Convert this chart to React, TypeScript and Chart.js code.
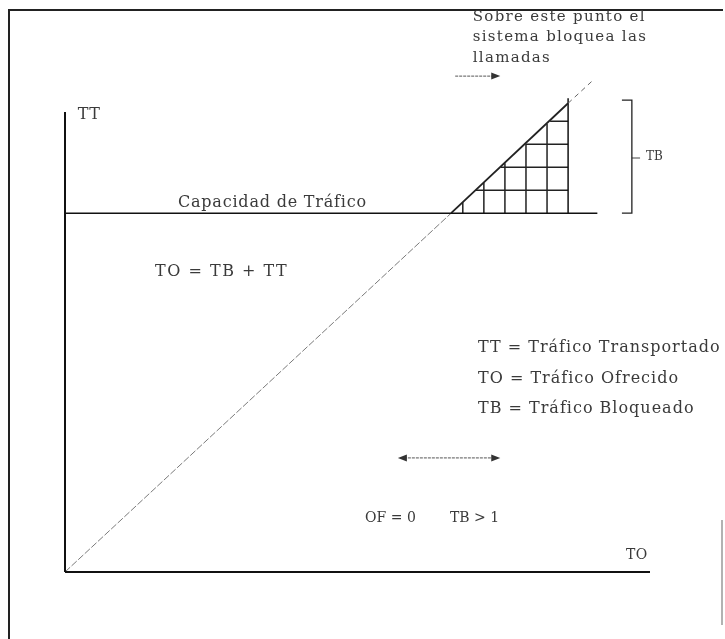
import React, { useEffect, useRef } from "react";
import { Chart, registerables } from "chart.js";

Chart.register(...registerables);

// ---- data (TO on x, TT on y, arbitrary units 0..100) ----
const axisX = [0, 100];
const axisY = [0, 100];
const capacity = 78;
const capacityEndX = 91;
const diagonalX = [0, 66, 86, 90];
const diagonalY = [0, 78, 101.9, 106.6];
const hatchRightX = 86;
const hatchCols = [68, 71.6, 75.2, 78.8, 82.4];
const hatchRows = [83, 88, 93, 98];
const bracketX = [95.2, 96.9, 98.3];
const bracketY = [78, 102.6, 90];

const slope = diagonalY[1] / diagonalX[1];

const labels = [
  { t: "TT", x: 2.2, y: 99.4, size: 16, ls: 0.5 },
  { t: "Capacidad de Tráfico", x: 19.3, y: 80.2, size: 16, ls: 0.8 },
  { t: "TO = TB + TT", x: 15.4, y: 65.2, size: 16, ls: 1.5 },
  { t: "TT = Tráfico Transportado", x: 70.6, y: 48.7, size: 16, ls: 1 },
  { t: "TO = Tráfico Ofrecido", x: 70.6, y: 42.0, size: 16, ls: 1 },
  { t: "TB = Tráfico Bloqueado", x: 70.6, y: 35.4, size: 16, ls: 1 },
  { t: "OF = 0", x: 51.3, y: 11.7, size: 14, ls: 0 },
  { t: "TB > 1", x: 65.8, y: 11.7, size: 14, ls: 0 },
  { t: "TO", x: 95.9, y: 3.7, size: 14, ls: 0.5 },
  { t: "TB", x: 99.3, y: 90.2, size: 12, ls: 0 },
  { t: "Sobre este punto el", x: 69.7, y: 120.7, size: 15, ls: 1.3 },
  { t: "sistema bloquea las", x: 69.7, y: 116.3, size: 15, ls: 1.3 },
  { t: "llamadas", x: 69.7, y: 111.7, size: 15, ls: 1.3 },
];

const arrowTop = { x1: 66.7, x2: 74.4, y: 107.8 };
const arrowBoth = { x1: 56.9, x2: 74.4, y: 24.8 };

function seg(points: number[][]) {
  return points.map(([x, y]) => ({ x, y }));
}

const gridData: { x: number; y: number | null }[] = [];
hatchCols.forEach((c) => {
  gridData.push({ x: c, y: capacity }, { x: c, y: slope * c }, { x: c, y: null });
});
hatchRows.forEach((r) => {
  gridData.push({ x: r / slope, y: r }, { x: hatchRightX, y: r }, { x: hatchRightX, y: null });
});

const drawPlugin = {
  id: "diagramText",
  afterDatasetsDraw(chart: any) {
    const { ctx } = chart;
    const xs = chart.scales.x;
    const ys = chart.scales.y;
    const px = (v: number) => xs.getPixelForValue(v);
    const py = (v: number) => ys.getPixelForValue(v);
    ctx.save();
    // frame
    ctx.strokeStyle = "#222";
    ctx.lineWidth = 2;
    ctx.beginPath();
    ctx.moveTo(9, 639);
    ctx.lineTo(9, 10);
    ctx.lineTo(723, 10);
    ctx.stroke();
    ctx.strokeStyle = "#999";
    ctx.lineWidth = 1.5;
    ctx.beginPath();
    ctx.moveTo(722, 520);
    ctx.lineTo(722, 625);
    ctx.stroke();

    // texts
    ctx.fillStyle = "#3a3a3a";
    ctx.textBaseline = "middle";
    ctx.textAlign = "left";
    labels.forEach((l) => {
      ctx.font = `${l.size}px "DejaVu Serif", serif`;
      (ctx as any).letterSpacing = `${l.ls}px`;
      ctx.fillText(l.t, px(l.x), py(l.y));
    });
    (ctx as any).letterSpacing = "0px";

    // arrows
    const head = (x: number, y: number, dir: number) => {
      ctx.beginPath();
      ctx.moveTo(x, y);
      ctx.lineTo(x - dir * 9, y - 3.5);
      ctx.lineTo(x - dir * 9, y + 3.5);
      ctx.closePath();
      ctx.fill();
    };
    ctx.strokeStyle = "#555";
    ctx.fillStyle = "#333";
    ctx.lineWidth = 1;
    ctx.setLineDash([3, 1]);
    ctx.beginPath();
    ctx.moveTo(px(arrowTop.x1), py(arrowTop.y));
    ctx.lineTo(px(arrowTop.x2) - 6, py(arrowTop.y));
    ctx.stroke();
    ctx.beginPath();
    ctx.moveTo(px(arrowBoth.x1) + 6, py(arrowBoth.y));
    ctx.lineTo(px(arrowBoth.x2) - 6, py(arrowBoth.y));
    ctx.stroke();
    ctx.setLineDash([]);
    head(px(arrowTop.x2), py(arrowTop.y), 1);
    head(px(arrowBoth.x2), py(arrowBoth.y), 1);
    head(px(arrowBoth.x1), py(arrowBoth.y), -1);
    ctx.restore();
  },
};

export default function App() {
  const ref = useRef<HTMLCanvasElement | null>(null);
  useEffect(() => {
    if (!ref.current) return;
    const line = (data: any[], color: string, width: number, dash: number[] = []) => ({
      data,
      showLine: true,
      borderColor: color,
      borderWidth: width,
      borderDash: dash,
      pointRadius: 0,
      fill: false,
      spanGaps: false,
      clip: false,
    });
    const chart = new Chart(ref.current, {
      type: "scatter",
      data: {
        datasets: [
          line(seg([[axisX[0], 0], [axisX[1], 0]]), "#111", 2),
          line(seg([[0, axisY[0]], [0, axisY[1]]]), "#111", 2),
          line(seg([[0, capacity], [capacityEndX, capacity]]), "#111", 1.5),
          line(seg([[diagonalX[0], diagonalY[0]], [diagonalX[1], diagonalY[1]]]), "#7a7a7a", 1, [7, 2]),
          line(seg([[diagonalX[1], diagonalY[1]], [diagonalX[2], diagonalY[2]]]), "#222", 1.8),
          line(seg([[diagonalX[2], diagonalY[2]], [diagonalX[3], diagonalY[3]]]), "#666", 1, [5, 4]),
          line(seg([[hatchRightX, capacity], [hatchRightX, 103]]), "#111", 1.5),
          line(gridData, "#222", 1.5),
          line(
            seg([[bracketX[0], bracketY[0]], [bracketX[1], bracketY[0]], [bracketX[1], bracketY[1]], [bracketX[0], bracketY[1]]]),
            "#222",
            1.3
          ),
          line(seg([[bracketX[1], bracketY[2]], [bracketX[2], bracketY[2]]]), "#444", 1),
        ],
      },
      options: {
        animation: false,
        responsive: false,
        layout: { padding: { left: 65, right: 75, top: 112, bottom: 67 } },
        plugins: { legend: { display: false }, tooltip: { enabled: false } },
        scales: {
          x: { type: "linear", min: 0, max: 100, display: false },
          y: { type: "linear", min: 0, max: 100, display: false },
        },
      },
      plugins: [drawPlugin],
    });
    return () => chart.destroy();
  }, []);
  return (
    <div style={{ position: "fixed", left: 0, top: 0, width: 725, height: 639, background: "#fff" }}>
      <canvas ref={ref} width={725} height={639} style={{ width: 725, height: 639 }} />
    </div>
  );
}
